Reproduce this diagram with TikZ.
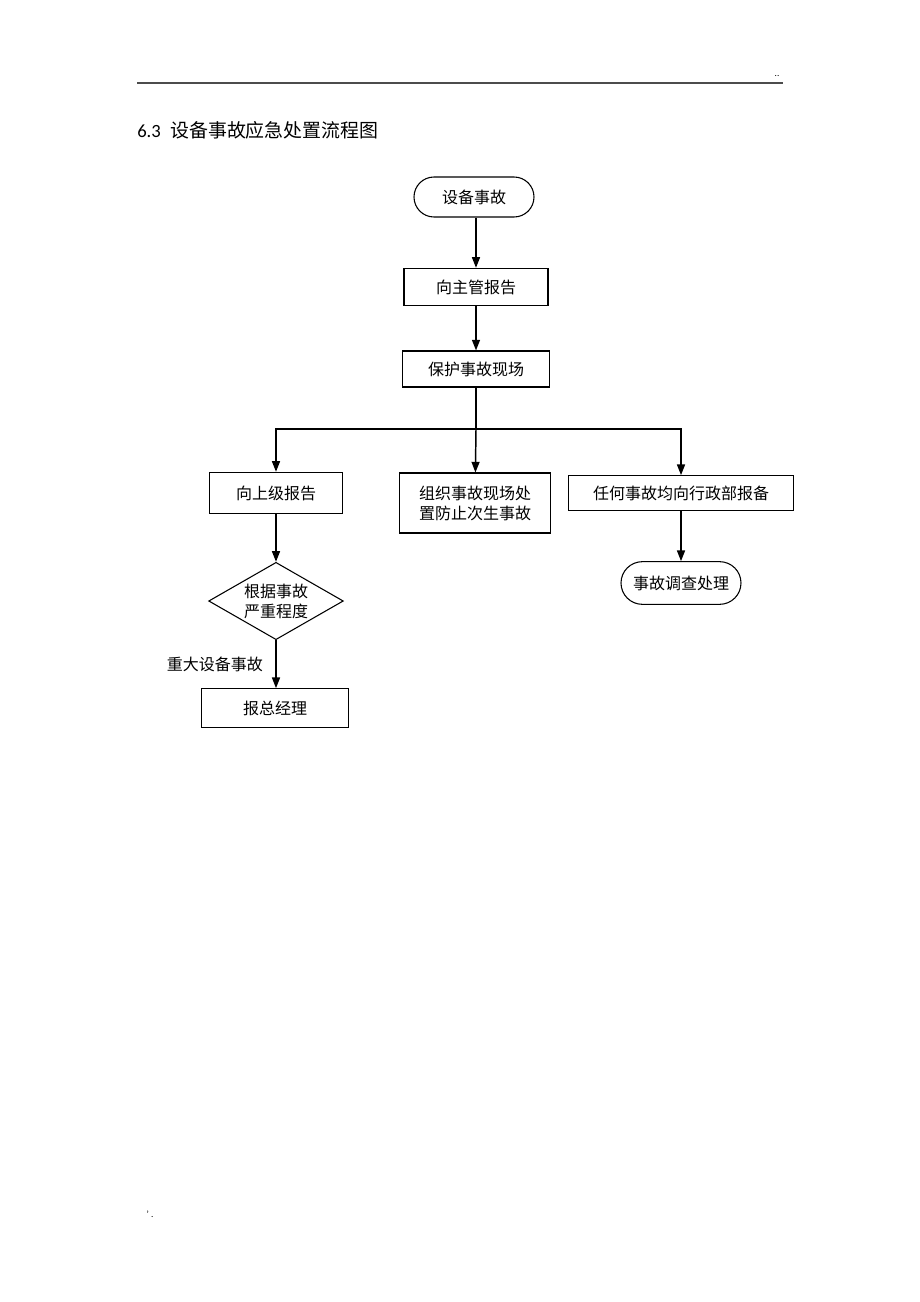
\documentclass[tikz,border=0pt]{standalone}
\usepackage{fontspec}
\setmainfont{Carlito}
\newfontfamily\cjk{Noto Sans CJK SC}
\usetikzlibrary{arrows.meta,shapes.geometric}

\begin{document}
\begin{tikzpicture}[x=0.75pt,y=-0.75pt,
    box/.style={draw,line width=0.8pt,inner sep=0pt,align=center,font=\cjk\fontsize{12pt}{15pt}\selectfont},
    roundbox/.style={box,rounded corners=15pt},
    decision/.style={box,diamond,aspect=1.73},
    arr/.style={line width=1.1pt,-{Triangle[width=6pt,length=8pt]}}]
  \useasboundingbox[fill=white] (0,0) rectangle (920,1302);
  % header
  \draw[line width=1.1pt,gray!60!black] (137,83) -- (783,83);
  \node[font=\fontsize{7pt}{8pt}\selectfont] (dots) at (777,76) {..};
  \node[anchor=base west,inner sep=0pt,font=\fontsize{14pt}{16pt}\selectfont] (title) at (137,138)
    {6.3\hspace{7pt}{\cjk\fontsize{14.2pt}{16pt}\selectfont 设备事故应急处置流程图}};
  % flow chart
  \node[roundbox,minimum width=90pt,minimum height=30pt] (start) at (474,197) {设备事故};
  \node[box,minimum width=108pt,minimum height=28pt] (report) at (476,287) {向主管报告};
  \node[box,minimum width=110pt,minimum height=27pt] (protect) at (476,369) {保护事故现场};
  \coordinate (split) at (476,429);
  \node[box,minimum width=100pt,minimum height=31pt] (upper) at (276,493) {向上级报告};
  \node[box,minimum width=113pt,minimum height=45pt] (organize) at (475,503) {组织事故现场处\\置防止次生事故};
  \node[box,minimum width=169pt,minimum height=26pt] (admin) at (681,493) {任何事故均向行政部报备};
  \node[decision,minimum width=101pt,minimum height=58pt] (degree) at (276,601) {根据事故\\严重程度};
  \node[box,minimum width=110pt,minimum height=29pt] (manager) at (275,708) {报总经理};
  \node[roundbox,minimum width=90pt,minimum height=32pt,rounded corners=16pt] (survey) at (681,583) {事故调查处理};

  \draw[arr] (start.south -| report.north) -- (report);
  \draw[arr] (report) -- (protect);
  \draw[line width=1.1pt] (protect) -- (split);
  \draw[arr] (split) -| (upper);
  \draw[arr] (split) -- (organize);
  \draw[arr] (split) -| (admin);
  \draw[arr] (upper) -- (degree);
  \draw[arr] (degree.south) -- node[left=6pt,font=\cjk\fontsize{12pt}{15pt}\selectfont] (major) {重大设备事故} (manager.north -| degree.south);
  \draw[arr] (admin.south -| survey.north) -- (survey);
  % footer
  \node[font=\fontsize{7pt}{8pt}\selectfont] (foot) at (150,1214) {’ .};
\end{tikzpicture}
\end{document}
